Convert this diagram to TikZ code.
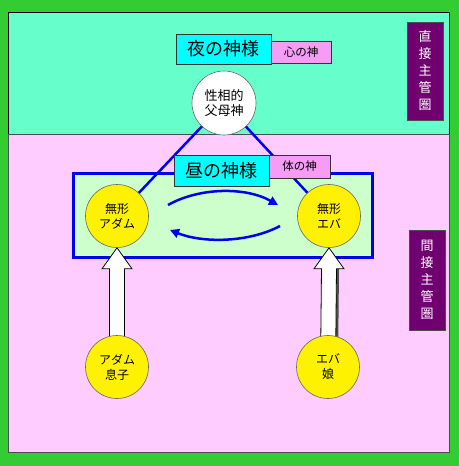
\documentclass[tikz,border=0pt]{standalone}
\usepackage{fontspec}
\newfontfamily\jp{Noto Sans CJK JP}
\usetikzlibrary{arrows.meta,calc}
\definecolor{outergreen}{HTML}{33CC33}
\definecolor{tealbg}{HTML}{66FFCC}
\definecolor{pinkbg}{HTML}{FFCCFF}
\definecolor{lightgreen}{HTML}{CCFFCC}
\definecolor{cyanbox}{HTML}{00FFFF}
\definecolor{pinklabel}{HTML}{F59CF5}
\definecolor{purplebox}{HTML}{700070}
\definecolor{blueline}{HTML}{0000EE}
\pgfdeclarelayer{back}
\pgfdeclarelayer{mid}
\pgfsetlayers{back,mid,main}
\begin{document}
\begin{tikzpicture}[x=1pt,y=-1pt,
  every node/.style={font=\jp},
  godbox/.style={draw=black!80, line width=0.8pt, fill=cyanbox, minimum width=95pt, inner sep=0pt,
    font=\jp\fontsize{18}{20}\selectfont},
  sublabel/.style={draw=black!80, line width=0.8pt, fill=pinklabel, inner sep=0pt,
    font=\jp\fontsize{11.5}{13}\selectfont},
  bubble/.style={circle, draw=gray!80!black, line width=0.6pt, fill=yellow, minimum size=63pt,
    inner sep=0pt, align=center, font=\jp\fontsize{12}{15}\selectfont},
  realm/.style={draw=black!70, line width=0.8pt, fill=purplebox, text=white, minimum width=36pt,
    inner sep=0pt, align=center, font=\jp\fontsize{13}{17}\selectfont},
  link/.style={blueline, line width=2.5pt},
  swap/.style={blueline, line width=2.5pt, -{Triangle[length=9pt,width=9pt]}},
  blk/.style={draw=black, line width=0.8pt, fill=white, line join=miter}
]
\useasboundingbox (0,0) rectangle (459,466);
\begin{pgfonlayer}{back}
\fill[outergreen] (0,0) rectangle (459,466);
\draw[black, line width=0.8pt, fill=tealbg] (8,12) rectangle (449,134);
\draw[black!70, line width=0.8pt, fill=pinkbg] (8,134) rectangle (449,452);
\draw[blueline, line width=3pt, fill=lightgreen] (73,173) rectangle (372,257);
\end{pgfonlayer}

% nodes
\node[godbox, minimum height=30pt] (night) at (223.5,49) {夜の神様};
\node[sublabel, minimum width=60pt, minimum height=22pt] (heart) at (301,52) {心の神};
\node[circle, draw=gray!80!black, line width=0.6pt, fill=white, minimum size=64pt, inner sep=0pt,
  align=center, font=\jp\fontsize{13}{15}\selectfont] (parent) at (224,103) {性相的\\父母神};
\node[godbox, minimum height=31pt] (day) at (221.5,170.5) {昼の神様};
\node[sublabel, minimum width=61pt, minimum height=23pt] (body) at (299.5,166.5) {体の神};
\node[bubble] (adam) at (117,216) {無形\\アダム};
\node[bubble] (eva) at (329,216) {無形\\エバ};
\node[bubble] (son) at (117,367) {アダム\\息子};
\node[bubble] (daughter) at (328,367) {エバ\\娘};
\node[realm, minimum height=98pt] (direct) at (425,71) {直\\接\\主\\管\\圏};
\node[realm, minimum height=100pt] (indirect) at (427,280) {間\\接\\主\\管\\圏};

\coordinate (u1) at (168,205);
\coordinate (u2) at (278,205);
\coordinate (l1) at (280,226);
\coordinate (l2) at (170,230);

\begin{pgfonlayer}{mid}
\draw[link] (parent.center) -- (adam.center);
\draw[link] (parent.center) -- (eva.center);
\draw[swap] (u1) .. controls (200,187) and (246,187) .. (u2);
\draw[swap] (l1) .. controls (248,243) and (202,243) .. (l2);
% block arrows
\fill[gray!60!black] ($(daughter.center)+(7.5,0)$) -- ++(2.5,0) -- ($(eva.south)+(10,21)$) -- ($(eva.south)+(7.5,21)$) -- cycle;
\draw[blk] (adam.south) -- ++(15,21) -- ++(-7.5,0) -- ($(son.center)+(7.5,0)$)
  -- ($(son.center)+(-7.5,0)$) -- ($(adam.south)+(-7.5,21)$) -- ++(-7.5,0) -- cycle;
\draw[blk] (eva.south) -- ++(15,21) -- ++(-7.5,0) -- ($(daughter.center)+(7.5,0)$)
  -- ($(daughter.center)+(-7.5,0)$) -- ($(eva.south)+(-7.5,21)$) -- ++(-7.5,0) -- cycle;
\end{pgfonlayer}
\end{tikzpicture}
\end{document}
